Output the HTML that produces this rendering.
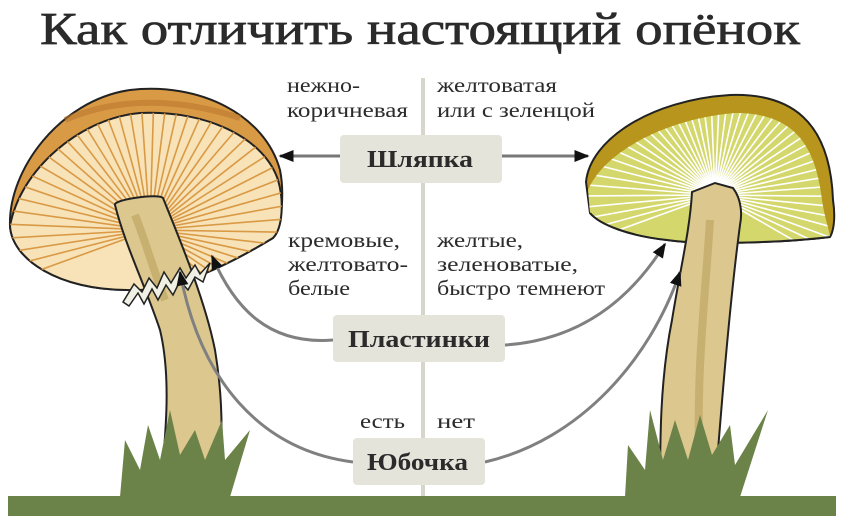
<!DOCTYPE html>
<html><head><meta charset="utf-8"><style>
html,body{margin:0;padding:0;background:#fff;width:850px;height:516px;overflow:hidden}
svg{display:block}
.t{font-family:"Liberation Serif","Noto Serif CJK SC",serif;fill:#2b2b2b}
</style></head><body>
<svg id="s" width="850" height="516" viewBox="0 0 850 516" xmlns="http://www.w3.org/2000/svg">
<defs>
<clipPath id="c1"><path d="M10,226 C20,170 80,118 140,113 C210,110 265,140 278,180 C284,200 283,228 273,238 C220,270 170,292 127,290 C60,290 12,260 10,226Z"/></clipPath>
<clipPath id="c2"><path d="M588,190 C605,150 670,118 735,113 C790,113 815,140 822,200 C825,220 830,232 830,237 C780,243 700,245 667,240 C630,236 600,225 590,213Z"/></clipPath>
<marker id="ah" viewBox="0 0 10 10" refX="9" refY="5" markerWidth="5" markerHeight="5" orient="auto" markerUnits="strokeWidth"><path d="M0,1 L10,5 L0,9Z" fill="#111"/></marker>
</defs>
<text class="t" x="40" y="44" font-size="46" textLength="760" lengthAdjust="spacingAndGlyphs" stroke="#2b2b2b" stroke-width="0.7">Как отличить настоящий опёнок</text>
<line x1="423" y1="78" x2="423" y2="496" stroke="#d6d6cc" stroke-width="4"/>
<!-- left cap -->
<path d="M10,226 C8,170 60,100 130,90 C200,82 265,115 280,170 C284,190 283,225 273,238 C220,270 170,292 127,290 C60,290 12,260 10,226Z" fill="#d99a45" stroke="#222" stroke-width="2"/>
<path d="M65,120 C110,100 170,95 240,118" stroke="#b9782e" stroke-width="6" fill="none" opacity=".6"/>
<path d="M10,226 C20,170 80,118 140,113 C210,110 265,140 278,180 C284,200 283,228 273,238 C220,270 170,292 127,290 C60,290 12,260 10,226Z" fill="#f8e2b8" stroke="#222" stroke-width="2"/>
<g id="g1" clip-path="url(#c1)" stroke="#d99a45" stroke-width="1.6"></g>
<!-- left stem -->
<path d="M115,205 C112,200 158,193 163,198 C180,240 205,300 215,350 C225,410 222,460 217,497 L160,497 C165,440 172,380 160,330 C145,285 125,245 115,205Z" fill="#dcc78e" stroke="#222" stroke-width="2"/>
<path d="M135,215 C145,240 150,260 165,300" stroke="#c7b070" stroke-width="8" fill="none"/>
<path d="M123,302 L134,284 L142,292 L149,278 L157,288 L164,272 L171,283 L180,268 L186,278 L195,265 L200,274 L210,263 L203,282 L195,277 L188,290 L180,281 L173,295 L166,285 L158,300 L152,289 L144,304 L138,293 L129,306Z" fill="#f0f0e4" stroke="#222" stroke-width="1.5"/>
<!-- right cap -->
<path d="M586,182 C590,140 650,100 730,95 C790,93 830,120 833,200 C836,220 833,232 830,237 C780,243 700,245 667,240 C630,236 600,225 590,213Z" fill="#b8961e" stroke="#222" stroke-width="2"/>
<path d="M588,190 C605,150 670,118 735,113 C790,113 815,140 822,200 C825,220 830,232 830,237 C780,243 700,245 667,240 C630,236 600,225 590,213Z" fill="#d3d76c"/>
<g id="g2" clip-path="url(#c2)" stroke="#fff" stroke-width="1.6"></g>
<path d="M590,213 C600,225 630,236 667,240 C700,245 780,243 830,237" fill="none" stroke="#222" stroke-width="2"/>
<!-- right stem -->
<path d="M692,192 L715,183 L733,188 C742,200 742,215 740,225 C730,300 722,400 717,463 L717,497 L660,497 C660,440 660,380 672,320 C680,270 690,230 692,192Z" fill="#dcc78e" stroke="#222" stroke-width="2"/>
<path d="M710,220 C705,300 695,380 700,480" stroke="#c7b070" stroke-width="8" fill="none"/>
<!-- grass -->
<path d="M120,497 L125,440 L140,470 L148,425 L160,460 L170,410 L180,455 L195,430 L205,460 L222,420 L225,460 L250,430 L230,497Z" fill="#6b8248"/>
<path d="M625,497 L628,445 L645,470 L650,410 L663,460 L675,420 L688,460 L700,415 L712,455 L730,425 L735,465 L768,410 L740,497Z" fill="#6b8248"/>
<rect x="8" y="496" width="828" height="20" fill="#6b8248"/>
<!-- connectors -->
<g fill="none" stroke-width="3">
<line x1="340" y1="156" x2="280" y2="156" stroke="#777" marker-end="url(#ah)"/>
<line x1="502" y1="156" x2="588" y2="156" stroke="#777" marker-end="url(#ah)"/>
<path d="M333,340 C270,345 235,310 212,256" stroke="#808080" marker-end="url(#ah)"/>
<path d="M505,345 C580,340 630,300 665,244" stroke="#808080" marker-end="url(#ah)"/>
<path d="M353,462 C260,450 200,380 180,272" stroke="#808080" marker-end="url(#ah)"/>
<path d="M485,462 C580,440 650,360 680,272" stroke="#808080" marker-end="url(#ah)"/>
</g>
<rect x="340" y="135" width="162" height="48" rx="4" fill="#e4e4da"/>
<rect x="333" y="315" width="172" height="47" rx="4" fill="#e4e4da"/>
<rect x="353" y="438" width="132" height="47" rx="4" fill="#e4e4da"/>
<g class="t" font-weight="bold" font-size="24" lengthAdjust="spacingAndGlyphs">
<text x="367" y="167" textLength="106" lengthAdjust="spacingAndGlyphs">Шляпка</text>
<text x="348" y="347" textLength="142" lengthAdjust="spacingAndGlyphs">Пластинки</text>
<text x="367" y="470" textLength="101" lengthAdjust="spacingAndGlyphs">Юбочка</text>
</g>
<g class="t" font-size="21">
<text x="287" y="92" textLength="73" lengthAdjust="spacingAndGlyphs">нежно-</text>
<text x="287" y="117" textLength="121" lengthAdjust="spacingAndGlyphs">коричневая</text>
<text x="437" y="92" textLength="120" lengthAdjust="spacingAndGlyphs">желтоватая</text>
<text x="437" y="117" textLength="158" lengthAdjust="spacingAndGlyphs">или с зеленцой</text>
<text x="288" y="247" textLength="112" lengthAdjust="spacingAndGlyphs">кремовые,</text>
<text x="288" y="271" textLength="120" lengthAdjust="spacingAndGlyphs">желтовато-</text>
<text x="288" y="295" textLength="62" lengthAdjust="spacingAndGlyphs">белые</text>
<text x="437" y="247" textLength="86" lengthAdjust="spacingAndGlyphs">желтые,</text>
<text x="437" y="271" textLength="141" lengthAdjust="spacingAndGlyphs">зеленоватые,</text>
<text x="437" y="295" textLength="168" lengthAdjust="spacingAndGlyphs">быстро темнеют</text>
<text x="360" y="428" textLength="45" lengthAdjust="spacingAndGlyphs">есть</text>
<text x="437" y="428" textLength="38" lengthAdjust="spacingAndGlyphs">нет</text>
</g>
</svg>
<script>
function rays(id,cx,cy,n,a0,a1){var g=document.getElementById(id),s="";for(var i=0;i<n;i++){var a=(a0+(a1-a0)*i/(n-1))*Math.PI/180;s+='<line x1="'+cx+'" y1="'+cy+'" x2="'+(cx+300*Math.cos(a))+'" y2="'+(cy+300*Math.sin(a))+'"/>';}g.innerHTML=s;}
rays("g1",150,230,44,-200,40);
rays("g2",715,195,48,-200,30);
</script>
</body></html>
